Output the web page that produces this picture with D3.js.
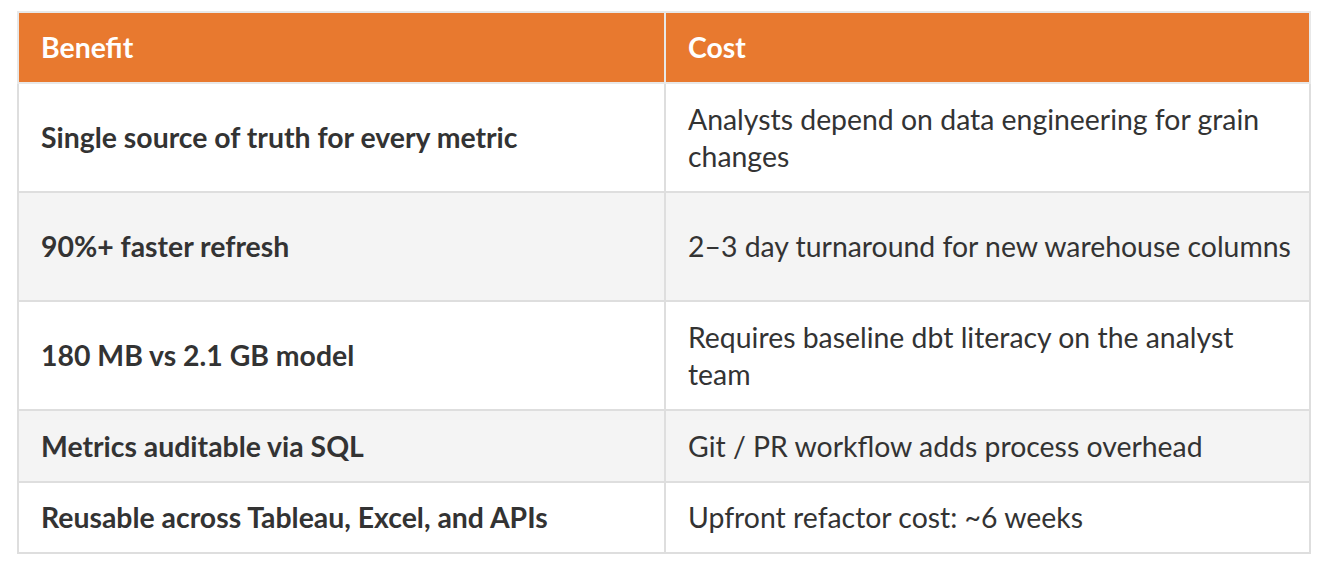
<!DOCTYPE html><html><head><meta charset="utf-8">
<script src="https://cdn.jsdelivr.net/npm/d3@7"></script>
<style>
body{margin:0;background:#fff;font-family:Lato,sans-serif;}
table{position:absolute;left:17px;top:11px;width:1294px;border-collapse:collapse;table-layout:fixed;}
th,td{border:2px solid #dedede;padding:0 18px 0 22px;text-align:left;font-size:28.4px;color:#333;line-height:37px;}
th{background:#e8792f;color:#fff;font-weight:bold;height:69px;border-color:#e8e8e8;}
td.b{font-weight:bold;}
tr.alt td{background:#f4f4f4;}
</style></head><body>
<script>
const headers=["Benefit","Cost"];
const benefits=["Single source of truth for every metric","90%+ faster refresh","180 MB vs 2.1 GB model","Metrics auditable via SQL","Reusable across Tableau, Excel, and APIs"];
const costs=["Analysts depend on data engineering for grain changes","2–3 day turnaround for new warehouse columns","Requires baseline dbt literacy on the analyst team","Git / PR workflow adds process overhead","Upfront refactor cost: ~6 weeks"];
const heights=[109,109,109,72,71];
const t=d3.select("body").append("table");
const cg=t.append("colgroup");cg.append("col").style("width","647px");cg.append("col");
t.append("tr").selectAll("th").data(headers).join("th").text(d=>d);
benefits.forEach((b,i)=>{
  const r=t.append("tr").classed("alt",i%2==1).style("height",heights[i]+"px");
  r.append("td").attr("class","b").text(b);
  r.append("td").text(costs[i]);
});
</script></body></html>
